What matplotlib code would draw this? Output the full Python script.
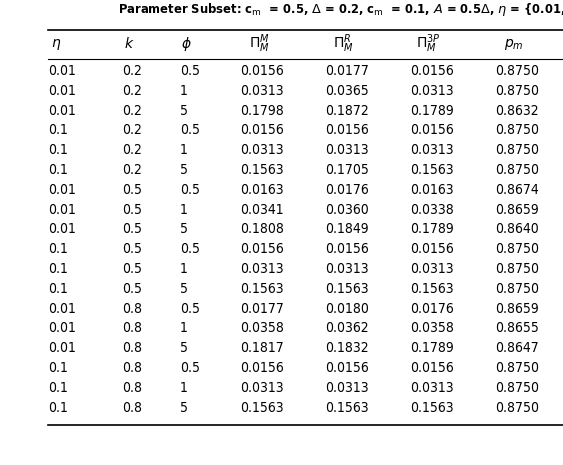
import matplotlib.pyplot as plt
from matplotlib.lines import Line2D

plt.rcParams["mathtext.fontset"] = "dejavusans"

eta = ["0.01", "0.01", "0.01", "0.1", "0.1", "0.1",
       "0.01", "0.01", "0.01", "0.1", "0.1", "0.1",
       "0.01", "0.01", "0.01", "0.1", "0.1", "0.1"]
k = ["0.2"] * 6 + ["0.5"] * 6 + ["0.8"] * 6
phi = ["0.5", "1", "5"] * 6
pi_m = ["0.0156", "0.0313", "0.1798", "0.0156", "0.0313", "0.1563",
        "0.0163", "0.0341", "0.1808", "0.0156", "0.0313", "0.1563",
        "0.0177", "0.0358", "0.1817", "0.0156", "0.0313", "0.1563"]
pi_r = ["0.0177", "0.0365", "0.1872", "0.0156", "0.0313", "0.1705",
        "0.0176", "0.0360", "0.1849", "0.0156", "0.0313", "0.1563",
        "0.0180", "0.0362", "0.1832", "0.0156", "0.0313", "0.1563"]
pi_3p = ["0.0156", "0.0313", "0.1789", "0.0156", "0.0313", "0.1563",
         "0.0163", "0.0338", "0.1789", "0.0156", "0.0313", "0.1563",
         "0.0176", "0.0358", "0.1789", "0.0156", "0.0313", "0.1563"]
p_m = ["0.8750", "0.8750", "0.8632", "0.8750", "0.8750", "0.8750",
       "0.8674", "0.8659", "0.8640", "0.8750", "0.8750", "0.8750",
       "0.8659", "0.8655", "0.8647", "0.8750", "0.8750", "0.8750"]
headers = [r"$\eta$", r"$k$", r"$\phi$", r"$\Pi_M^M$", r"$\Pi_M^R$",
           r"$\Pi_M^{3P}$", r"$p_m$"]
columns = [eta, k, phi, pi_m, pi_r, pi_3p, p_m]

W, H = 563, 465
fig = plt.figure(figsize=(W / 100, H / 100), dpi=100)
ax = fig.add_axes([0, 0, 1, 1])
ax.set_xlim(0, W)
ax.set_ylim(H, 0)
ax.axis("off")

font = dict(family="DejaVu Sans", stretch="condensed", fontsize=10)

# title runs off the right edge, as in the original
ax.text(118, 9, r"Parameter Subset: c$_\mathrm{m}$  = 0.5, $\Delta$ = 0.2, c$_\mathrm{m}$  = 0.1, "
        r"$\mathit{A}$ = 0.5$\Delta$, $\eta$ = {0.01, 0.1}",
        ha="left", va="center", fontweight="bold", family="DejaVu Sans",
        stretch="condensed", fontsize=9.3)

col_x = [48, 122, 180, 240, 325, 410, 495]
head_x = [56, 129, 186, 259, 343, 428, 514]
for hx, h in zip(head_x, headers):
    ax.text(hx, 44, h, ha="center", va="center", **font)

row0, dy = 71, 19.8
for cx, col in zip(col_x, columns):
    for i, v in enumerate(col):
        ax.text(cx, row0 + i * dy, v, ha="left", va="center", **font)

for y, lw in [(30, 1.2), (59, 0.8), (425, 1.2)]:
    ax.add_line(Line2D([48, W], [y, y], color="black", lw=lw))

fig.savefig("out.png", dpi=100)
